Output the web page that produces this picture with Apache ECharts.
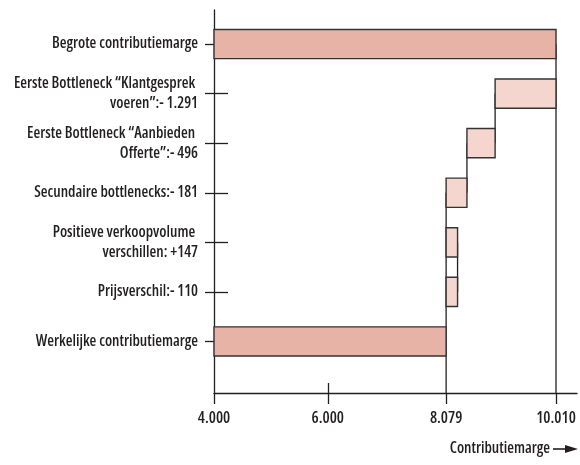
<!DOCTYPE html>
<html>
<head>
<meta charset="utf-8">
<script src="https://cdn.jsdelivr.net/npm/echarts@6/dist/echarts.min.js"></script>
<style>
html,body{margin:0;padding:0;background:#fff}
#c{width:580px;height:465px}
</style>
</head>
<body>
<div id="c"></div>
<script>
// ---- data ----
const categories = [
  'Begrote contributiemarge',
  'Eerste Bottleneck \u201cKlantgesprek \nvoeren\u201d:- 1.291',
  'Eerste Bottleneck \u201cAanbieden \nOfferte\u201d:- 496',
  'Secundaire bottlenecks:- 181',
  'Positieve verkoopvolume \nverschillen: +147',
  'Prijsverschil:- 110',
  'Werkelijke contributiemarge'
];
const barStart = [4000, 8940, 8445, 8079, 8079, 8079, 4000];
const barEnd   = [10010, 10010, 8940, 8445, 8280, 8280, 8079];
const barIsTotal = [true, false, false, false, false, false, true];
// connector lines: [x value, from category index, to category index (null = down to axis)]
const connectorX    = [10010, 8940, 8445, 8079, 8280];
const connectorFrom = [0, 1, 2, 3, 4];
const connectorTo   = [null, 2, 3, null, 5];
const tickValues = [4000, 6000, 8079, 10010];
const tickLabels = ['4.000', '6.000', '8.079', '10.010'];
const axisTitle = 'Contributiemarge';

const FONT = "'Open Sans','Roboto Condensed',sans-serif";
const STRETCH = 'condensed';   // goes into the canvas font shorthand
const WEIGHT = 600;
const INK = '#231f20';
const yMin = -0.687, yMax = 7.04;
const xMin = 4000, xMax = 10379;

const barData = categories.map((c, i) => [i, barStart[i], barEnd[i], barIsTotal[i] ? 1 : 0]);
const connData = connectorX.map((x, k) => [x, connectorFrom[k], connectorTo[k] === null ? yMax : connectorTo[k]]);
const catIdx = categories.map((c, i) => i);

const lineStyle = {color: INK, width: 1.3};
const txt = {fontFamily: FONT, fontStyle: STRETCH, fontWeight: WEIGHT, color: INK};
const LFS = 15.5;
// first (or only) line of each category label
const yLabelTop = v => {
  const s = categories[Math.round(v)];
  if (s == null) return '';
  const parts = s.split('\n');
  return parts.length > 1 ? '{up|' + parts[0] + '}' : '{mid|' + parts[0] + '}';
};
// second line of two-line category labels
const yLabelBottom = v => {
  const s = categories[Math.round(v)];
  if (s == null) return '';
  const parts = s.split('\n');
  return parts.length > 1 ? '{down|' + parts[1] + '}' : '';
};
const richStyles = {
  up: Object.assign({fontSize: LFS, padding: [0, 0, 20, 0]}, txt),
  mid: Object.assign({fontSize: LFS}, txt),
  down: Object.assign({fontSize: LFS, padding: [20, 0, 0, 0]}, txt)
};

const chart = echarts.init(document.getElementById('c'), null, {renderer: 'canvas'});
chart.setOption({
  animation: false,
  backgroundColor: '#fff',
  textStyle: {fontFamily: FONT, color: INK, fontWeight: WEIGHT},
  grid: {left: 214, right: 3, top: 10, bottom: 72, containLabel: false, outerBoundsMode: 'none'},
  xAxis: [{
    type: 'value', min: xMin, max: xMax, position: 'bottom',
    axisLine: {show: true, onZero: false, lineStyle: lineStyle},
    axisTick: {show: true, customValues: tickValues, length: 11, lineStyle: lineStyle},
    axisLabel: Object.assign({customValues: tickValues, formatter: v => tickLabels[tickValues.indexOf(v)] || '',
      margin: 17, fontSize: 16, hideOverlap: false}, txt),
    splitLine: {show: false}
  }, {
    type: 'value', min: xMin, max: xMax, position: 'bottom', gridIndex: 0,
    axisLine: {show: false, onZero: false},
    axisTick: {show: true, inside: true, customValues: [tickValues[1]], length: 10, lineStyle: lineStyle},
    axisLabel: {show: false},
    splitLine: {show: false}
  }],
  yAxis: [{
    type: 'value', inverse: true, min: yMin, max: yMax, position: 'left',
    axisLine: {show: true, onZero: false, lineStyle: lineStyle},
    axisTick: {show: true, customValues: catIdx, length: 9, lineStyle: lineStyle},
    axisLabel: Object.assign({customValues: catIdx, formatter: yLabelTop,
      margin: 16, align: 'right', verticalAlign: 'middle', fontSize: LFS, hideOverlap: false,
      rich: richStyles}, txt),
    splitLine: {show: false}
  }, {
    type: 'value', inverse: true, min: yMin, max: yMax, position: 'left', gridIndex: 0,
    axisLine: {show: false, onZero: false},
    axisTick: {show: true, inside: true, customValues: catIdx, length: 14, lineStyle: lineStyle},
    axisLabel: Object.assign({customValues: catIdx, formatter: yLabelBottom,
      margin: 16, align: 'right', verticalAlign: 'middle', fontSize: LFS, hideOverlap: false,
      rich: richStyles}, txt),
    splitLine: {show: false}
  }],
  graphic: [
    {type: 'text', x: 550, y: 449, style: {text: axisTitle, fontFamily: FONT, fontStyle: STRETCH, fontWeight: WEIGHT,
      fontSize: 15.5, fill: INK, align: 'right', verticalAlign: 'middle'}},
    {type: 'line', shape: {x1: 553, y1: 449, x2: 570, y2: 449}, style: {stroke: INK, lineWidth: 1.6}},
    {type: 'polygon', shape: {points: [[565, 445], [578, 449], [565, 453]]}, style: {fill: INK}}
  ],
  series: [{
    type: 'custom', xAxisIndex: 0, yAxisIndex: 0, z: 1, clip: false,
    data: connData,
    encode: {x: 0, y: [1, 2]},
    renderItem: (params, api) => {
      const a = api.coord([api.value(0), api.value(1)]);
      const b = api.coord([api.value(0), api.value(2)]);
      return {type: 'line', shape: {x1: a[0], y1: a[1], x2: b[0], y2: b[1]},
        style: {stroke: INK, lineWidth: 1.3}};
    }
  }, {
    type: 'custom', xAxisIndex: 0, yAxisIndex: 0, z: 2,
    data: barData,
    encode: {x: [1, 2], y: 0},
    renderItem: (params, api) => {
      const i = api.value(0);
      const p1 = api.coord([api.value(1), i]);
      const p2 = api.coord([api.value(2), i]);
      const h = api.size([0, 1])[1] * 0.59;
      return {type: 'rect', shape: {x: p1[0], y: p1[1] - h / 2, width: p2[0] - p1[0], height: h},
        style: {fill: api.value(3) ? '#e8b3a7' : '#f4d6cf', stroke: '#333', lineWidth: 1.4}};
    }
  }]
});
</script>
</body>
</html>
